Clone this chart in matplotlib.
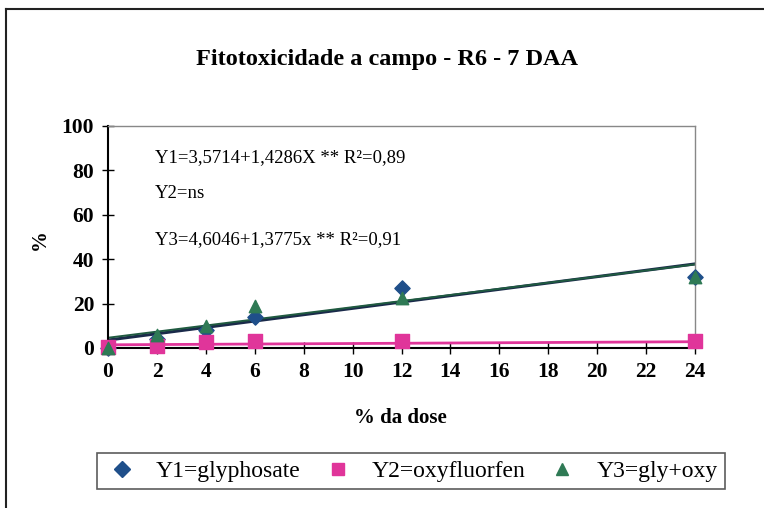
import matplotlib
matplotlib.use("Agg")
import matplotlib.pyplot as plt
import numpy as np
from matplotlib.lines import Line2D

plt.rcParams['font.family'] = ['Liberation Serif', 'DejaVu Serif']

doses = [0, 2, 4, 6, 12, 24]
y1_glyphosate = [0, 4, 8, 14, 27, 32]
y2_oxyfluorfen = [0.5, 1, 2.5, 3, 3, 3]
y3_glyoxy = [0, 6, 10, 19, 22.5, 32]

fit_y1 = (3.5714, 1.4286)
fit_y2 = (1.43, 0.058)
fit_y3 = (4.6046, 1.3775)

xticks = list(range(0, 25, 2))
yticks = [0, 20, 40, 60, 80, 100]

c_blue = '#1f4f8a'
c_pink = '#e0359a'
c_green = '#2f7a55'

fig = plt.figure(figsize=(7.64, 5.08), dpi=100)
ax = fig.add_axes([0.1414, 0.315, 0.7683, 0.437])

xl = np.array([0, 24])
ax.plot(xl, fit_y2[0] + fit_y2[1] * xl, color=c_pink, lw=2.0, zorder=2)
ax.plot(xl, fit_y1[0] + fit_y1[1] * xl, color='#1a2a4a', lw=2.2, zorder=2)
ax.plot(xl, fit_y3[0] + fit_y3[1] * xl, color='#1f5a40', lw=1.4, zorder=2)

ax.scatter(doses, y1_glyphosate, marker='D', s=60, color=c_blue, zorder=3, clip_on=False)
ax.scatter(doses, y2_oxyfluorfen, marker='s', s=90, color=c_pink, zorder=3, clip_on=False)
ax.scatter(doses, y3_glyoxy, marker='^', s=80, color=c_green, zorder=4, clip_on=False)

ax.set_xlim(0, 24)
ax.set_ylim(0, 100)
ax.set_xticks(xticks)
ax.set_yticks(yticks)
ax.tick_params(axis='both', direction='inout', length=8, width=1, labelsize=15.5, pad=6)
for lab in ax.get_xticklabels() + ax.get_yticklabels():
    lab.set_fontweight('bold')

for s in ['left', 'bottom']:
    ax.spines[s].set_color('black')
    ax.spines[s].set_linewidth(1.5)
for s in ['top', 'right']:
    ax.spines[s].set_color('#888888')
    ax.spines[s].set_linewidth(1.0)

ax.text(1.92, 85.6, 'Y1=3,5714+1,4286X ** R²=0,89', fontsize=13.5, va='center', ha='left')
ax.text(1.92, 69.8, 'Y2=ns', fontsize=13.5, va='center', ha='left')
ax.text(1.92, 48.6, 'Y3=4,6046+1,3775x ** R²=0,91', fontsize=13.5, va='center', ha='left')

fig.text(0.507, 0.882, 'Fitotoxicidade a campo - R6 - 7 DAA', fontsize=17.5, fontweight='bold',
         ha='center', va='center')
fig.text(0.524, 0.177, '% da dose', fontsize=15, fontweight='bold', ha='center', va='center')
fig.text(0.052, 0.528, '%', fontsize=15, fontweight='bold', ha='center', va='center', rotation=90)

handles = [
    Line2D([], [], marker='D', color=c_blue, ls='none', markersize=8),
    Line2D([], [], marker='s', color=c_pink, ls='none', markersize=9),
    Line2D([], [], marker='^', color=c_green, ls='none', markersize=9),
]
labels = ['Y1=glyphosate', 'Y2=oxyfluorfen', 'Y3=gly+oxy']
leg = fig.legend(handles, labels, loc='center', ncol=3, mode='expand',
                 bbox_to_anchor=(97 / 764, 16 / 508, 628 / 764, 42 / 508),
                 fontsize=17, frameon=True, fancybox=False, edgecolor='#333333',
                 handletextpad=0.7, handlelength=1.5, borderpad=0.3, borderaxespad=0)
leg.get_frame().set_linewidth(1.2)

# outer frame (left and top edges)
fig.add_artist(Line2D([0.008, 0.008], [0, 0.982], color='#222222', lw=1.5, transform=fig.transFigure))
fig.add_artist(Line2D([0.008, 1.0], [0.982, 0.982], color='#222222', lw=1.5, transform=fig.transFigure))

fig.savefig('out.png', dpi=100)
